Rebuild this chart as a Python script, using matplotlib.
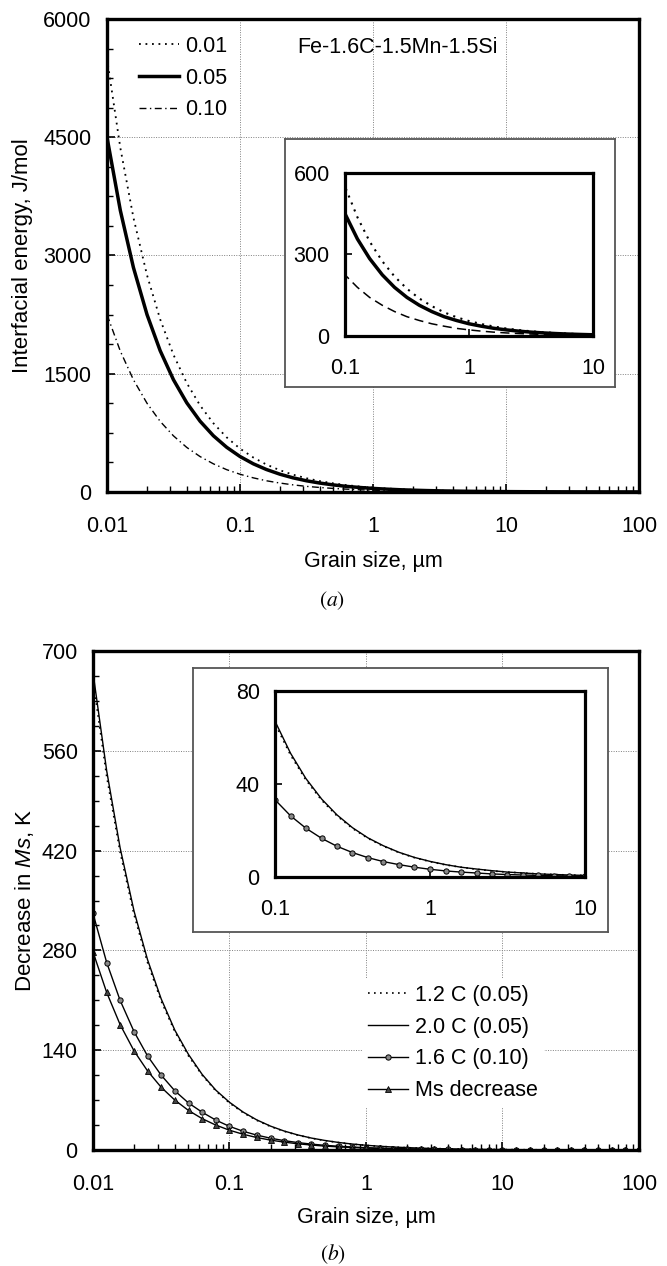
import matplotlib
matplotlib.use('Agg')
import matplotlib.pyplot as plt
import numpy as np
from matplotlib.ticker import MultipleLocator, LogLocator, NullFormatter

plt.rcParams['font.family'] = ['Liberation Sans', 'DejaVu Sans']
plt.rcParams['mathtext.fontset'] = 'custom'
plt.rcParams['mathtext.rm'] = 'Liberation Sans'
plt.rcParams['mathtext.it'] = 'Liberation Sans:italic'

# Grain size, um (10 points per decade)
grain = [0.01, 0.0126, 0.0158, 0.02, 0.0251, 0.0316, 0.0398, 0.0501, 0.0631, 0.0794,
         0.1, 0.126, 0.158, 0.2, 0.251, 0.316, 0.398, 0.501, 0.631, 0.794,
         1, 1.26, 1.58, 2, 2.51, 3.16, 3.98, 5.01, 6.31, 7.94,
         10, 12.6, 15.8, 20, 25.1, 31.6, 39.8, 50.1, 63.1, 79.4, 100]

# (a) Interfacial energy, J/mol
energy_001 = [5500, 4365, 3481, 2750, 2191, 1741, 1382, 1098, 872, 693,
              550, 437, 348, 275, 219, 174, 138, 110, 87, 69,
              55, 44, 35, 27.5, 22, 17.4, 13.8, 11, 8.7, 6.9,
              5.5, 4.4, 3.5, 2.8, 2.2, 1.7, 1.4, 1.1, 0.9, 0.7, 0.55]
energy_005 = [4500, 3571, 2848, 2250, 1793, 1424, 1131, 898, 713, 567,
              450, 357, 285, 225, 179, 142, 113, 90, 71, 57,
              45, 36, 28.5, 22.5, 17.9, 14.2, 11.3, 9, 7.1, 5.7,
              4.5, 3.6, 2.8, 2.3, 1.8, 1.4, 1.1, 0.9, 0.7, 0.6, 0.45]
energy_010 = [2250, 1786, 1424, 1125, 896, 712, 565, 449, 357, 283,
              225, 179, 142, 113, 90, 71, 57, 45, 36, 28,
              22.5, 17.9, 14.2, 11.3, 9, 7.1, 5.7, 4.5, 3.6, 2.8,
              2.3, 1.8, 1.4, 1.1, 0.9, 0.7, 0.6, 0.45, 0.36, 0.28, 0.23]
labels_a = ['0.01', '0.05', '0.10']

# (b) Decrease in Ms, K
ms_12c = [660, 524, 418, 330, 263, 209, 166, 132, 105, 83,
          66, 52.4, 41.8, 33, 26.3, 20.9, 16.6, 13.2, 10.5, 8.3,
          6.6, 5.2, 4.2, 3.3, 2.6, 2.1, 1.7, 1.3, 1.05, 0.83,
          0.66, 0.52, 0.42, 0.33, 0.26, 0.21, 0.17, 0.13, 0.1, 0.08, 0.07]
ms_20c = [670, 532, 424, 335, 267, 212, 168, 134, 106, 84,
          67, 53.2, 42.4, 33.5, 26.7, 21.2, 16.8, 13.4, 10.6, 8.4,
          6.7, 5.3, 4.2, 3.4, 2.7, 2.1, 1.7, 1.3, 1.06, 0.84,
          0.67, 0.53, 0.42, 0.34, 0.27, 0.21, 0.17, 0.13, 0.11, 0.08, 0.07]
ms_16c = [332, 263, 210, 166, 132, 105, 83, 66, 53, 42,
          33.2, 26.3, 21, 16.6, 13.2, 10.5, 8.3, 6.6, 5.3, 4.2,
          3.3, 2.6, 2.1, 1.7, 1.3, 1.05, 0.83, 0.66, 0.53, 0.42,
          0.33, 0.26, 0.21, 0.17, 0.13, 0.1, 0.08, 0.07, 0.05, 0.04, 0.03]
ms_dec = [278, 221, 176, 139, 111, 88, 70, 55.5, 44, 35,
          27.8, 22.1, 17.6, 13.9, 11.1, 8.8, 7, 5.5, 4.4, 3.5,
          2.8, 2.2, 1.76, 1.39, 1.11, 0.88, 0.7, 0.55, 0.44, 0.35,
          0.28, 0.22, 0.18, 0.14, 0.11, 0.09, 0.07, 0.06, 0.04, 0.035, 0.028]
labels_b = ['1.2 C (0.05)', '2.0 C (0.05)', '1.6 C (0.10)', 'Ms decrease']

x_ticks = [0.01, 0.1, 1, 10, 100]
x_ticklabels = ['0.01', '0.1', '1', '10', '100']
inset_xticks = [0.1, 1, 10]
inset_xticklabels = ['0.1', '1', '10']

FS = 15.5
DOT = (0, (1, 2.6))
DASHDOT = (0, (5, 2.5, 1, 2.5))


def style_main(ax, ymajor, yminor):
    ax.set_xscale('log')
    ax.set_xticks(x_ticks, x_ticklabels)
    ax.xaxis.set_minor_locator(LogLocator(base=10, subs=np.arange(2, 10)))
    ax.xaxis.set_minor_formatter(NullFormatter())
    ax.yaxis.set_major_locator(MultipleLocator(ymajor))
    ax.yaxis.set_minor_locator(MultipleLocator(yminor))
    for s in ax.spines.values():
        s.set_linewidth(2.4)
    ax.tick_params(which='both', direction='in', top=False, right=False, labelsize=FS)
    ax.tick_params(which='major', length=6, width=1.2)
    ax.tick_params(which='minor', length=4, width=1.0)
    ax.tick_params(axis='x', pad=17)
    ax.tick_params(axis='y', pad=11)
    ax.grid(True, which='major', color='#808080', ls=(0, (1, 1.5)), lw=0.7)


def style_inset(ax, yticks):
    ax.set_xscale('log')
    ax.set_xlim(0.1, 10)
    ax.set_xticks(inset_xticks, inset_xticklabels)
    ax.xaxis.set_minor_locator(plt.NullLocator())
    ax.set_yticks(yticks)
    ax.set_ylim(yticks[0], yticks[-1])
    for s in ax.spines.values():
        s.set_linewidth(2.3)
    ax.tick_params(which='major', direction='in', top=False, right=False,
                   length=5, width=1.2, labelsize=FS)
    ax.tick_params(axis='x', pad=16)
    ax.tick_params(axis='y', pad=11)


def box(rect):
    b = fig.add_axes(rect)
    b.set_xticks([])
    b.set_yticks([])
    b.set_facecolor('white')
    for s in b.spines.values():
        s.set_linewidth(1.3)
        s.set_edgecolor('#555555')
    return b


fig = plt.figure(figsize=(6.67, 12.66), dpi=100)

# ---------------- (a) ----------------
ax1 = fig.add_axes([0.1604, 0.6114, 0.7976, 0.3736])
ax1.plot(grain, energy_001, color='k', lw=1.3, ls=DOT, label=labels_a[0])
ax1.plot(grain, energy_005, color='k', lw=2.5, label=labels_a[1])
ax1.plot(grain, energy_010, color='k', lw=1.0, ls=DASHDOT, label=labels_a[2])
style_main(ax1, 1500, 375)
ax1.set_xlim(0.01, 100)
ax1.set_ylim(0, 6000)
ax1.set_xlabel('Grain size, µm', fontsize=FS)
ax1.set_ylabel('Interfacial energy, J/mol', fontsize=16)
ax1.xaxis.label.set_va('center')
ax1.yaxis.label.set_va('center')
ax1.xaxis.set_label_coords(0.5, -0.148)
ax1.yaxis.set_label_coords(-0.158, 0.5)
ax1.legend(loc='center left', bbox_to_anchor=(0.060, 0.875), frameon=False,
           fontsize=FS, handlelength=1.85, handletextpad=0.3, labelspacing=0.5,
           borderpad=0, borderaxespad=0)
ax1.text(0.357, 0.9387, 'Fe-1.6C-1.5Mn-1.5Si', transform=ax1.transAxes,
         fontsize=FS, va='center', ha='left')

box([0.4273, 0.6943, 0.4948, 0.1959])
ins1 = fig.add_axes([0.5172, 0.7346, 0.3718, 0.1288])
ins1.plot(grain, energy_001, color='k', lw=1.5, ls=DOT)
ins1.plot(grain, energy_005, color='k', lw=2.5)
ins1.plot(grain, energy_010, color='k', lw=1.1, ls=(0, (6, 3.5)))
style_inset(ins1, [0, 300, 600])

fig.text(0.498, 0.5253, r'$(a)$', math_fontfamily='stix', fontsize=FS,
         ha='center', va='center')

# ---------------- (b) ----------------
ax2 = fig.add_axes([0.1394, 0.0916, 0.8186, 0.3942])
ax2.plot(grain, ms_12c, color='k', lw=1.2, ls=DOT, label=labels_b[0])
ax2.plot(grain, ms_20c, color='k', lw=1.0, label=labels_b[1])
ax2.plot(grain, ms_16c, color='k', lw=1.0, marker='o', ms=3.8, mfc='#888888',
         mec='k', mew=0.7, label=labels_b[2])
ax2.plot(grain, ms_dec, color='k', lw=1.0, marker='^', ms=3.8, mfc='#444444',
         mec='k', mew=0.6, label=labels_b[3])
style_main(ax2, 140, 35)
ax2.set_xlim(0.01, 100)
ax2.set_ylim(0, 700)
ax2.set_xlabel('Grain size, µm', fontsize=FS)
ax2.set_ylabel(r'Decrease in $\mathit{Ms}$, K', fontsize=16)
ax2.xaxis.label.set_va('center')
ax2.yaxis.label.set_va('center')
ax2.xaxis.set_label_coords(0.5, -0.136)
ax2.yaxis.set_label_coords(-0.125, 0.5)
ax2.legend(loc='center left', bbox_to_anchor=(0.4927, 0.2144), frameon=True,
           facecolor='white', edgecolor='none', framealpha=1, fancybox=False,
           fontsize=FS, handlelength=1.85, handletextpad=0.3, labelspacing=0.5,
           borderpad=0.3, borderaxespad=0, numpoints=1)

box([0.2894, 0.2638, 0.6222, 0.2085])
ins2 = fig.add_axes([0.4123, 0.3073, 0.4648, 0.1469])
ins2.plot(grain, ms_12c, color='k', lw=1.2, ls=DOT)
ins2.plot(grain, ms_20c, color='k', lw=1.0)
ins2.plot(grain, ms_16c, color='k', lw=1.0, marker='o', ms=3.8, mfc='#888888',
          mec='k', mew=0.7)
style_inset(ins2, [0, 40, 80])

fig.text(0.499, 0.0095, r'$(b)$', math_fontfamily='stix', fontsize=FS,
         ha='center', va='center')

fig.savefig('out.png', dpi=100)
